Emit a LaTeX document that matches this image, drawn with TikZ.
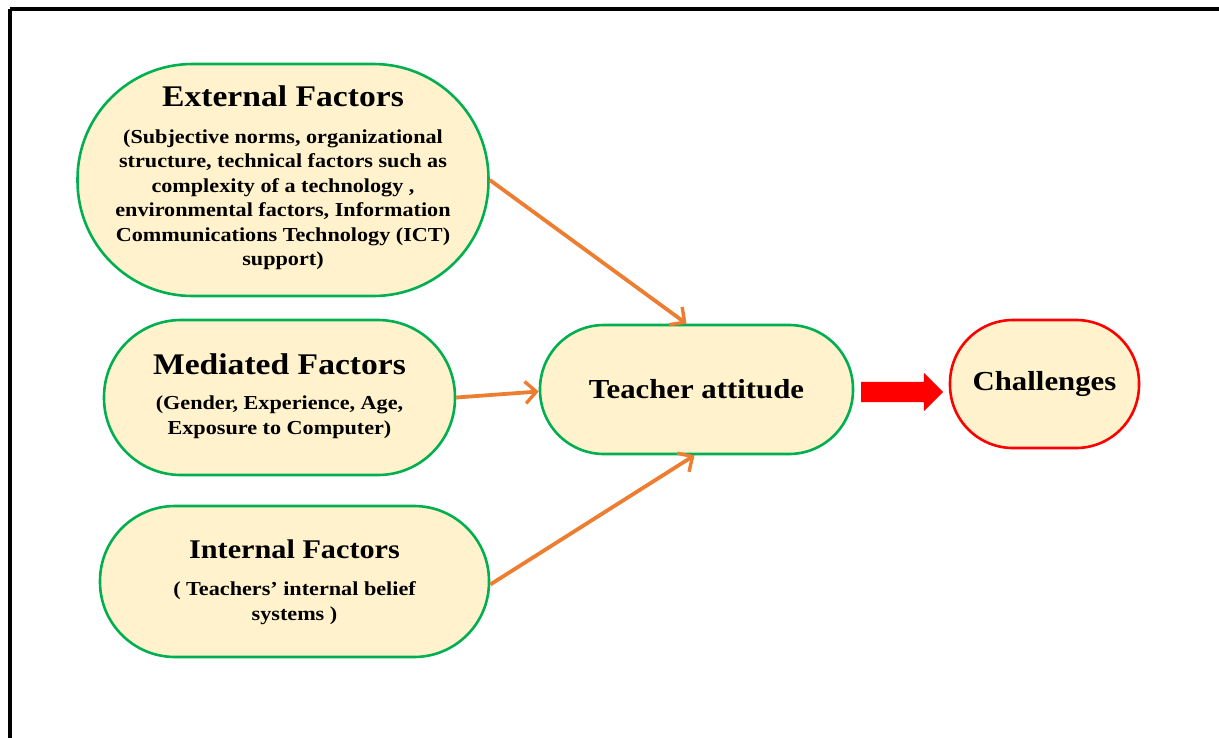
\documentclass[tikz,border=0pt]{standalone}
\usepackage{fontspec}
\setmainfont[FakeStretch=1.12]{Liberation Serif}
\usetikzlibrary{arrows.meta,shapes.arrows}
\definecolor{boxfill}{HTML}{FFF2CC}
\definecolor{boxgreen}{HTML}{00B050}
\definecolor{linkorange}{HTML}{ED7D31}
\definecolor{alertred}{HTML}{FF0000}
\newcommand{\headfont}[2][30]{{\fontsize{#1}{#1}\selectfont #2}}
\begin{document}
\begin{tikzpicture}[x=1pt,y=-1pt,
  stadium/.style={draw=boxgreen, fill=boxfill, line width=2.6pt,
    align=center, inner sep=0pt, text=black,
    font=\fontsize{19.8}{24.5}\selectfont\bfseries},
  link/.style={draw=linkorange, line width=3.8pt,
    -{Straight Barb[length=11pt,width=22pt,line width=3.4pt]}}
]
\useasboundingbox (0,0) rectangle (1219,737);
% outer frame, running off the right and bottom edges
\draw[line width=4pt] (10,9) -- (1240,9) (10,9) -- (10,760);

% factor boxes
\node[stadium, minimum width=411pt, minimum height=232pt,
      rounded corners=115pt] (ext) at (283,180)
  {\headfont{External Factors}\\[12pt]
   (Subjective norms, organizational\\
   structure, technical factors such as\\
   complexity of a technology ,\\
   environmental factors, Information\\
   Communications Technology (ICT)\\
   support)\\[-16pt]};
\node[stadium, minimum width=351pt, minimum height=155pt,
      rounded corners=77pt] (med) at (279.5,397.5)
  {\headfont{Mediated Factors}\\[11pt]
   (Gender, Experience, Age,\\
   Exposure to Computer)\\[-17pt]};
\node[stadium, minimum width=389pt, minimum height=151pt,
      rounded corners=75pt] (int) at (294.5,581.5)
  {\headfont[27]{Internal Factors}\\[13pt]
   ( Teachers’ internal belief\\
   systems )\\[-21pt]};

% central and outcome boxes
\node[stadium, minimum width=313pt, minimum height=129pt,
      rounded corners=64pt] (ta) at (696.5,389.5)
  {\headfont[27.5]{Teacher attitude}};
\node[stadium, draw=alertred, minimum width=189pt, minimum height=128pt,
      rounded corners=63pt] (ch) at (1044.5,384)
  {\headfont[27.5]{Challenges}};

% links into teacher attitude
\coordinate (taIn1) at ([xshift=-10pt]ta.north);
\coordinate (taIn3) at ([xshift=-2pt]ta.south);
\draw[link] (ext.east) -- (taIn1);
\draw[link] (med.east) -- ([yshift=-2pt]ta.west);
\draw[link] ([yshift=-3pt]int.east) -- (taIn3);

% block arrow towards challenges
\node[single arrow, fill=alertred, draw=none, inner sep=10pt,
      minimum height=82pt, single arrow head extend=9pt,
      single arrow tip angle=90] (blk) at (897,392) {};
\end{tikzpicture}
\end{document}
